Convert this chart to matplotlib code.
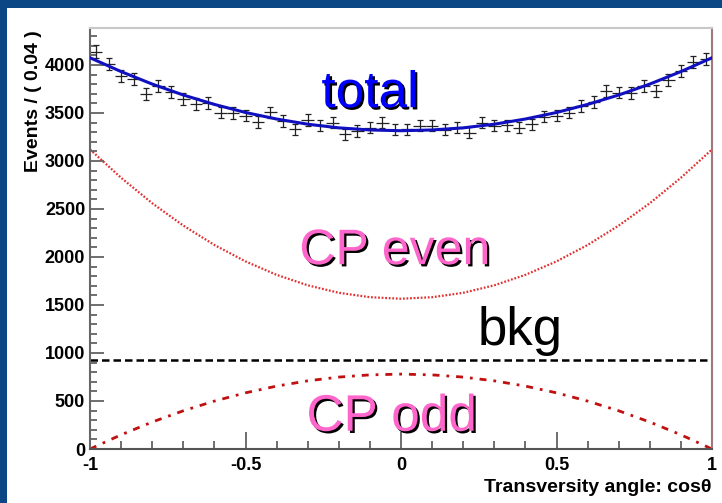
import numpy as np
import matplotlib.pyplot as plt
import matplotlib.patheffects as pe
from matplotlib.patches import Rectangle

plt.rcParams['font.family'] = ['Liberation Sans', 'DejaVu Sans']

# dados: 50 bins de largura 0.04
bin_centers = np.arange(-0.98, 1.0, 0.04)
events = [4140, 4010, 3886, 3855, 3700, 3782, 3716, 3647, 3595, 3605,
          3504, 3498, 3472, 3406, 3505, 3417, 3330, 3427, 3372, 3400,
          3278, 3312, 3347, 3400, 3323, 3330, 3365, 3365, 3323, 3347,
          3295, 3400, 3365, 3372, 3347, 3382, 3462, 3472, 3504, 3574,
          3615, 3730, 3713, 3705, 3782, 3730, 3845, 3939, 4035, 4061]

# curvas do ajuste (valores lidos a cada 0.1)
x_curve = [-1.0, -0.9, -0.8, -0.7, -0.6, -0.5, -0.4, -0.3, -0.2, -0.1, 0.0,
           0.1, 0.2, 0.3, 0.4, 0.5, 0.6, 0.7, 0.8, 0.9, 1.0]
total = [4075, 3931, 3801, 3687, 3589, 3505, 3437, 3383, 3345, 3323, 3315,
         3323, 3345, 3383, 3437, 3505, 3589, 3687, 3801, 3931, 4075]
cp_even = [3120, 2825, 2560, 2327, 2125, 1954, 1814, 1705, 1627, 1581, 1565,
           1581, 1627, 1705, 1814, 1954, 2125, 2327, 2560, 2825, 3120]
cp_odd = [0, 148, 281, 398, 499, 585, 655, 710, 749, 772, 780,
          772, 749, 710, 655, 585, 499, 398, 281, 148, 0]
bkg = [930] * len(x_curve)

W, H = 722, 503
fig = plt.figure(figsize=(W / 100, H / 100), dpi=100)
fig.patch.set_facecolor('#0b4785')
fig.add_artist(Rectangle((7 / W, 0), 1, (H - 8) / H, transform=fig.transFigure,
                         facecolor='white', edgecolor='none', zorder=0))

ax = fig.add_axes([90 / W, (H - 449) / H, 622 / W, 421 / H])
ax.set_xlim(-1, 1)
ax.set_ylim(0, 4385)

ax.errorbar(bin_centers, events, xerr=0.02, fmt='none', ecolor='#222222',
            elinewidth=0.9, capsize=0)
ax.errorbar(bin_centers, events, yerr=np.sqrt(events), fmt='none', ecolor='#222222',
            elinewidth=0.9, capsize=2.2, capthick=0.9)

ax.plot(x_curve, total, color='#1010c0', lw=2.2, zorder=5)
ax.plot(x_curve, cp_even, color='#e03030', lw=1.6, ls=(0, (0.8, 0.8)))
ax.plot(x_curve, cp_odd, color='#c01010', lw=2.0, ls=(0, (2.5, 2.5, 1, 2.5)))
ax.plot(x_curve, bkg, color='black', lw=1.8, ls=(0, (3, 1.6)))

shadow = [pe.withSimplePatchShadow(offset=(1.6, -1.6), shadow_rgbFace='black', alpha=1)]
ax.text(-0.1, 3560, 'total', color='#0000ff', fontsize=37, ha='center', va='baseline',
        path_effects=shadow)
ax.text(-0.02, 1925, 'CP even', color='#ff66cc', fontsize=36, ha='center', va='baseline',
        path_effects=shadow)
ax.text(-0.03, 190, 'CP odd', color='#ff66cc', fontsize=37, ha='center', va='baseline',
        path_effects=shadow)
ax.text(0.245, 1085, 'bkg', color='black', fontsize=38, ha='left', va='baseline')

ax.set_yticks(np.arange(0, 4001, 500))
ax.set_yticks(np.arange(0, 4385, 100), minor=True)
ax.set_xticks([-1, -0.5, 0, 0.5, 1])
ax.set_xticklabels(['-1', '-0.5', '0', '0.5', '1'])
ax.set_xticks(np.arange(-1, 1.01, 0.1), minor=True)
ax.tick_params(axis='both', which='both', direction='in', colors='#555555',
               labelcolor='black', labelsize=13)
ax.tick_params(axis='y', which='major', length=10, width=1.2)
ax.tick_params(axis='y', which='minor', length=5, width=1.2)
ax.tick_params(axis='x', which='major', length=12, width=1.2, pad=6)
ax.tick_params(axis='x', which='minor', length=6, width=1.2)
for lab in ax.get_xticklabels() + ax.get_yticklabels():
    lab.set_fontweight('bold')

ax.spines['left'].set_color('#666666')
ax.spines['bottom'].set_color('#555555')
ax.spines['top'].set_color('#c8c8c8')
ax.spines['right'].set_color('#a07878')
for s in ax.spines.values():
    s.set_linewidth(1.5)

fig.text(34 / W, 1 - 30 / H, 'Events / ( 0.04 )', rotation=90, ha='center', va='top',
         fontsize=14, fontweight='bold')
fig.text(712 / W, 1 - 487 / H, 'Transversity angle: cosθ', ha='right', va='center',
         fontsize=14, fontweight='bold')

fig.savefig('out.png', dpi=100, facecolor=fig.get_facecolor())
